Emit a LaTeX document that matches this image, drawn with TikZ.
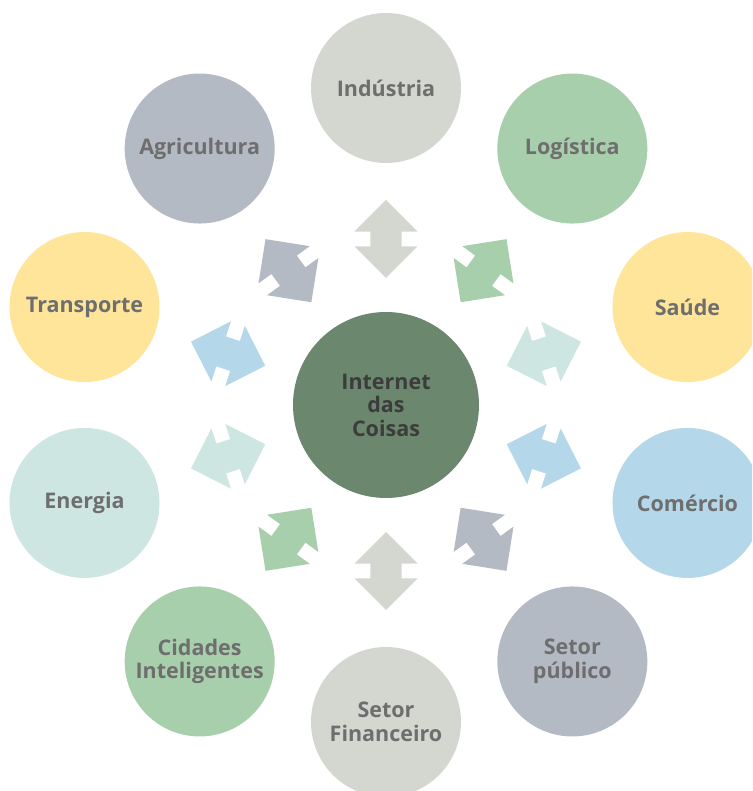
\documentclass[tikz,border=0pt]{standalone}
\usepackage{fontspec}
\setmainfont{Open Sans}
\usetikzlibrary{shapes.arrows}
\definecolor{hubgreen}{HTML}{6B876D}
\definecolor{pale}{HTML}{D3D7D0}
\definecolor{sage}{HTML}{A8CFAC}
\definecolor{sun}{HTML}{FEE599}
\definecolor{sky}{HTML}{B4D7EA}
\definecolor{slate}{HTML}{B4BAC4}
\definecolor{mint}{HTML}{CDE6E2}
\definecolor{labelgrey}{HTML}{6E6E6E}
\definecolor{hubtext}{HTML}{3C3C3C}

\begin{document}
\begin{tikzpicture}[x=1pt,y=1pt,
    sector/.style={circle,minimum size=150pt,inner sep=0pt,align=center,
      text=labelgrey,font=\bfseries\fontsize{21.5}{23.5}\selectfont},
    link/.style={double arrow,double arrow head extend=16pt,
      minimum height=78pt,inner xsep=0pt,inner ysep=15.5pt}]

  \clip (-386,-386) rectangle (366,405);

  % hub
  \node[circle,fill=hubgreen,minimum size=186pt,inner sep=0pt,align=center,
    text=hubtext,font=\bfseries\fontsize{21.5}{23.5}\selectfont] (iot)
    at (0,0) {Internet\\das\\Coisas};

  % sectors
  \node[sector,fill=pale] (ind) at (90:317) {Indústria};
  \node[sector,fill=sage] (log) at (54:317) {Logística};
  \node[sector,fill=sun] (sau) at (18:317) {Saúde};
  \node[sector,fill=sky] (com) at (-18:317) {Comércio};
  \node[sector,fill=slate] (pub) at (-54:317) {Setor\\público};
  \node[sector,fill=pale] (fin) at (-90:317) {Setor\\Financeiro};
  \node[sector,fill=sage] (cid) at (-126:317) {Cidades\\Inteligentes};
  \node[sector,fill=mint] (ene) at (-162:317) {Energia};
  \node[sector,fill=sun] (tra) at (162:317) {Transporte};
  \node[sector,fill=slate] (agr) at (126:317) {Agricultura};

  % two-way arrows
  \node[link,fill=pale,rotate=90] (a1) at (90:166) {};
  \node[link,fill=sage,rotate=54] (a2) at (54:166) {};
  \node[link,fill=mint,rotate=18] (a3) at (18:166) {};
  \node[link,fill=sky,rotate=-18] (a4) at (-18:166) {};
  \node[link,fill=slate,rotate=-54] (a5) at (-54:166) {};
  \node[link,fill=pale,rotate=-90] (a6) at (-90:166) {};
  \node[link,fill=sage,rotate=-126] (a7) at (-126:166) {};
  \node[link,fill=mint,rotate=-162] (a8) at (-162:166) {};
  \node[link,fill=sky,rotate=162] (a9) at (162:166) {};
  \node[link,fill=slate,rotate=126] (a10) at (126:166) {};

\end{tikzpicture}
\end{document}
